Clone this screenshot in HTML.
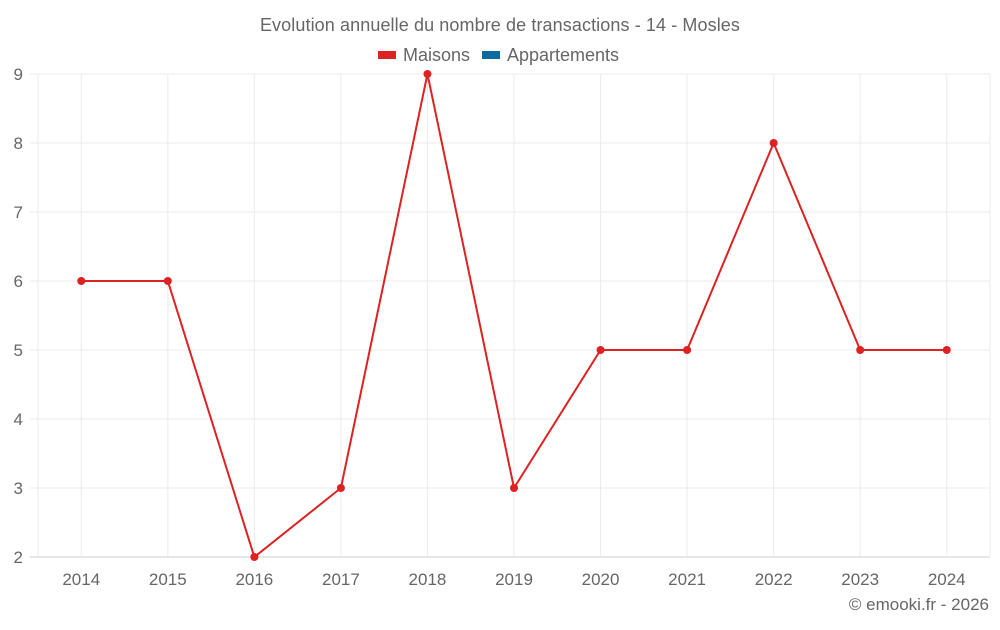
<!DOCTYPE html>
<html><head><meta charset="utf-8"><style>
body{margin:0;background:#fff;font-family:"Liberation Sans",sans-serif;}
svg text{font-family:"Liberation Sans",sans-serif;fill:#666;}
</style></head><body>
<svg id="chart" width="1000" height="625" xmlns="http://www.w3.org/2000/svg">
<text x="500" y="31" font-size="18" letter-spacing="0.1" text-anchor="middle">Evolution annuelle du nombre de transactions - 14 - Mosles</text>
<g><rect x="378" y="51" width="18" height="8" fill="#dc2222"/><text x="403" y="61" font-size="18">Maisons</text></g>
<g><rect x="482" y="51" width="18" height="8" fill="#0a6aa1"/><text x="507" y="61" font-size="18">Appartements</text></g>
<g id="grid"></g>
<g id="yaxis"></g>
<g id="xaxis"></g>
<g id="series"></g>
<text x="989" y="610" font-size="17" text-anchor="end">© emooki.fr - 2026</text>
</svg>
<script>
const categories=["2014","2015","2016","2017","2018","2019","2020","2021","2022","2023","2024"];
const maisons=[6,6,2,3,9,3,5,5,8,5,5];
const yTicks=[2,3,4,5,6,7,8,9];
const NS="http://www.w3.org/2000/svg";
const L=38,R=990,T=74,B=557,yMin=2,yMax=9;
const band=(R-L)/categories.length;
const x=i=>L+band*(i+0.5);
const y=v=>B-(v-yMin)/(yMax-yMin)*(B-T);
function mk(tag,attrs,parent){const e=document.createElementNS(NS,tag);for(const k in attrs)e.setAttribute(k,attrs[k]);parent.appendChild(e);return e;}
const grid=document.getElementById('grid'),ya=document.getElementById('yaxis'),xa=document.getElementById('xaxis'),se=document.getElementById('series');
yTicks.forEach(v=>{
 const l=mk('line',{x1:30,x2:R,y1:y(v),y2:y(v),stroke:v===yMin?'#ccc':'#ebebeb','stroke-width':1},grid);
 
 
 const t=mk('text',{x:23,y:y(v)+6,'font-size':17,'text-anchor':'end'},ya);
 
 
 t.textContent=v;
});
mk('line',{x1:L,x2:L,y1:T,y2:B,stroke:'#ebebeb'},grid);
mk('line',{x1:R,x2:R,y1:T,y2:B,stroke:'#ebebeb'},grid);
categories.forEach((c,i)=>{
 const l=mk('line',{x1:x(i),x2:x(i),y1:T,y2:B,stroke:'#ebebeb'},grid);
 
 
 const t=mk('text',{x:x(i),y:585,'font-size':17,'text-anchor':'middle'},xa);
 
 
 t.textContent=c;
});
const p=mk('polyline',{points:maisons.map((v,i)=>x(i)+','+y(v)).join(' '),fill:'none',stroke:'#dc2222','stroke-width':2},se);


maisons.forEach((v,i)=>{
 const c=mk('circle',{cx:x(i),cy:y(v),r:4,fill:'#dc2222'},se);
 
 
});
</script>
</body></html>
